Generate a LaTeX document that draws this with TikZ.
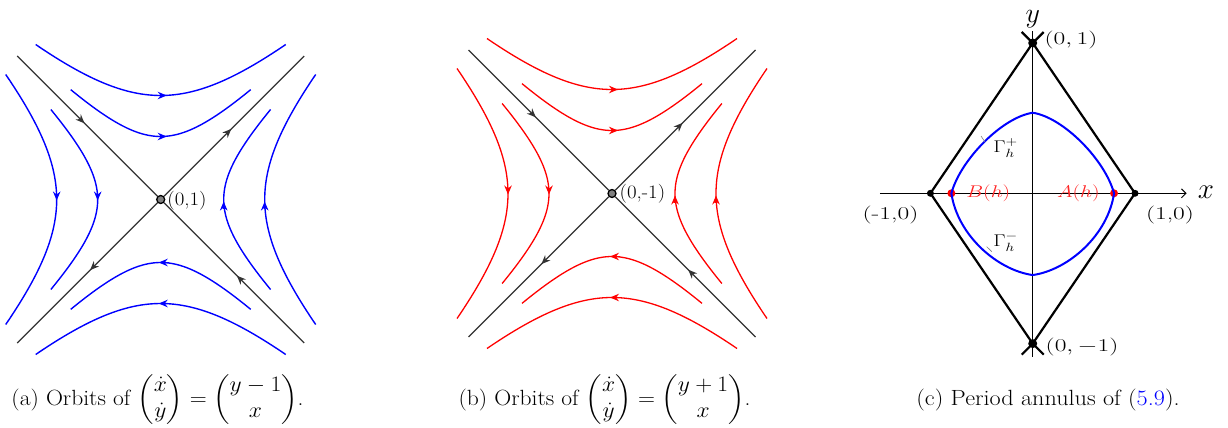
\RequirePackage{fix-cm}
\documentclass[tikz,border=0pt]{standalone}
\usepackage{amsmath}
\usepackage{graphicx}
\usetikzlibrary{arrows.meta,decorations.markings}
\newcommand{\xs}[1]{\scalebox{1.25}[1]{#1}}
\newcommand{\xw}[1]{\scalebox{1.42}[1]{#1}}
\tikzset{
  headtip/.tip={Stealth[length=9pt,width=7.5pt,inset=3pt]},
  midarrow/.style={postaction={decorate},decoration={markings,mark=at position #1 with {\arrow{headtip}}}},
  midarrow/.default=0.5,
  orbitA/.style={blue,line width=1.4pt},
  orbitB/.style={red,line width=1.3pt},
  tipA/.style={blue,line width=1.4pt,-headtip,shorten >=-4pt},
  tipB/.style={red,line width=1.3pt,-headtip,shorten >=-4pt},
  separatrix/.style={black!80,line width=1.2pt,midarrow=0.48},
  saddle/.style={circle,draw=black,line width=1.3pt,fill=gray,inner sep=0pt,minimum size=8pt},
  captext/.style={anchor=base,inner sep=0pt,font=\fontsize{22}{26}\selectfont},
  lab/.style={anchor=west,inner sep=0pt,font=\fontsize{19}{22}\selectfont},
  clab/.style={inner sep=0pt,font=\fontsize{17}{20}\selectfont},
  vlab/.style={inner sep=0pt,font=\fontsize{18}{21}\selectfont},
  bigdot/.style={circle,fill=black,inner sep=0pt,minimum size=#1},
  reddot/.style={circle,fill=red,inner sep=0pt,minimum size=8pt},
  rhomb/.style={black,line width=2.2pt},
}
\begin{document}
\begin{tikzpicture}[x=10pt,y=-10pt]
\useasboundingbox (0,0) rectangle (122.8,42.8);
% ---------- panel (a)
\begin{scope}[shift={(16.07,19.95)}]
  \node[saddle] (sa) at (0,0) {};
  \node[lab] (sal) at (0.65,0.1) {\scalebox{1.1}[1]{(0,1)}};
  \coordinate (a1) at (-14.35,-14.35);
  \coordinate (a2) at (14.35,-14.35);
  \coordinate (a3) at (-14.35,14.35);
  \coordinate (a4) at (14.35,14.35);
  \draw[separatrix] (a1) -- (sa);
  \draw[separatrix] (a4) -- (sa);
  \draw[separatrix] (sa) -- (a2);
  \draw[separatrix] (sa) -- (a3);
  \draw[orbitA] plot[domain=-12.5:12.5,samples=41,smooth] (\x,{-sqrt(10.4*10.4+0.845*\x*\x)});
  \draw[orbitA] plot[domain=-9:9,samples=41,smooth] (\x,{-sqrt(6.3*6.3+\x*\x)});
  \draw[orbitA] plot[domain=-12.5:12.5,samples=41,smooth] (\x,{sqrt(10.4*10.4+0.845*\x*\x)});
  \draw[orbitA] plot[domain=-9:9,samples=41,smooth] (\x,{sqrt(6.3*6.3+\x*\x)});
  \draw[orbitA] plot[domain=-12.5:12.5,samples=41,smooth] ({-sqrt(10.4*10.4+0.845*\x*\x)},\x);
  \draw[orbitA] plot[domain=-9:9,samples=41,smooth] ({-sqrt(6.3*6.3+\x*\x)},\x);
  \draw[orbitA] plot[domain=-12.5:12.5,samples=41,smooth] ({sqrt(10.4*10.4+0.845*\x*\x)},\x);
  \draw[orbitA] plot[domain=-9:9,samples=41,smooth] ({sqrt(6.3*6.3+\x*\x)},\x);
  \draw[tipA] (-0.4,-10.4) -- (0.2,-10.4);
  \draw[tipA] (-0.4,-6.3) -- (0.2,-6.3);
  \draw[tipA] (0.8,10.4) -- (0.2,10.4);
  \draw[tipA] (0.8,6.3) -- (0.2,6.3);
  \draw[tipA] (-10.4,-0.6) -- (-10.4,-0.3);
  \draw[tipA] (-6.3,-0.6) -- (-6.3,-0.3);
  \draw[tipA] (10.4,0.9) -- (10.4,0.6);
  \draw[tipA] (6.3,0.9) -- (6.3,0.6);
\end{scope}
% ---------- panel (b)
\begin{scope}[shift={(61.2,19.35)}]
  \node[saddle] (sb) at (0,0) {};
  \node[lab] (sbl) at (0.75,0) {\scalebox{1.1}[1]{(0,-1)}};
  \coordinate (b1) at (-14.35,-14.35);
  \coordinate (b2) at (14.35,-14.35);
  \coordinate (b3) at (-14.35,14.35);
  \coordinate (b4) at (14.35,14.35);
  \draw[separatrix] (b1) -- (sb);
  \draw[separatrix] (b4) -- (sb);
  \draw[separatrix] (sb) -- (b2);
  \draw[separatrix] (sb) -- (b3);
  \draw[orbitB] plot[domain=-12.5:12.5,samples=41,smooth] (\x,{-sqrt(10.4*10.4+0.845*\x*\x)});
  \draw[orbitB] plot[domain=-9:9,samples=41,smooth] (\x,{-sqrt(6.3*6.3+\x*\x)});
  \draw[orbitB] plot[domain=-12.5:12.5,samples=41,smooth] (\x,{sqrt(10.4*10.4+0.845*\x*\x)});
  \draw[orbitB] plot[domain=-9:9,samples=41,smooth] (\x,{sqrt(6.3*6.3+\x*\x)});
  \draw[orbitB] plot[domain=-12.5:12.5,samples=41,smooth] ({-sqrt(10.4*10.4+0.845*\x*\x)},\x);
  \draw[orbitB] plot[domain=-9:9,samples=41,smooth] ({-sqrt(6.3*6.3+\x*\x)},\x);
  \draw[orbitB] plot[domain=-12.5:12.5,samples=41,smooth] ({sqrt(10.4*10.4+0.845*\x*\x)},\x);
  \draw[orbitB] plot[domain=-9:9,samples=41,smooth] ({sqrt(6.3*6.3+\x*\x)},\x);
  \draw[tipB] (-0.4,-10.4) -- (0.2,-10.4);
  \draw[tipB] (-0.4,-6.3) -- (0.2,-6.3);
  \draw[tipB] (0.8,10.4) -- (0.2,10.4);
  \draw[tipB] (0.8,6.3) -- (0.2,6.3);
  \draw[tipB] (-10.4,-0.6) -- (-10.4,-0.3);
  \draw[tipB] (-6.3,-0.6) -- (-6.3,-0.3);
  \draw[tipB] (10.4,0.9) -- (10.4,0.6);
  \draw[tipB] (6.3,0.9) -- (6.3,0.6);
\end{scope}
% ---------- panel (c)
\begin{scope}[shift={(1032.7pt,-193.3pt)},x=102.3pt,y=150.3pt]
  \coordinate (xl) at (-1.493,0);
  \coordinate (xr) at (1.505,0);
  \coordinate (yb) at (0,-1.087);
  \coordinate (yt) at (0,1.082);
  \draw[line width=1pt,-{Straight Barb[length=4.5pt,width=9pt]}] (xl) -- (xr);
  \draw[line width=1pt] (yb) -- (yt);
  \node[font=\fontsize{29}{30}\selectfont,inner sep=0pt] (xlab) at (1.694,0.01) {$x$};
  \node[font=\fontsize{28}{30}\selectfont,inner sep=0pt] (ylab) at (0,1.16) {$y$};
  \node[bigdot=9pt] (vt) at (0,1) {};
  \node[bigdot=9pt] (vb) at (0,-1) {};
  \node[bigdot=7pt] (vl) at (-1,0) {};
  \node[bigdot=7pt] (vr) at (1,0) {};
  \draw[rhomb] (vl.center) -- (vt.center) -- (vr.center) -- (vb.center) -- cycle;
  \draw[rhomb] (vt.center) -- ++(-11pt,11pt);
  \draw[rhomb] (vt.center) -- ++(11pt,11pt);
  \draw[rhomb] (vb.center) -- ++(-11pt,-11pt);
  \draw[rhomb] (vb.center) -- ++(11pt,-11pt);
  \node[reddot] (pa) at (0.795,0) {};
  \node[reddot] (pb) at (-0.795,0) {};
  \draw[blue,line width=2pt] (pa.center) .. controls (0.707,0.222) and (0.30,0.505) .. (0,0.536)
     .. controls (-0.30,0.505) and (-0.707,0.222) .. (pb.center)
     .. controls (-0.736,-0.277) and (-0.35,-0.51) .. (0,-0.544)
     .. controls (0.35,-0.51) and (0.736,-0.277) .. (pa.center);
  \node[vlab,anchor=west] (lt) at (0.115,1.02) {\xw{$(0,1)$}};
  \node[vlab,anchor=west] (lb) at (0.125,-1.02) {\xw{$(0,-1)$}};
  \node[vlab] (ll) at (-1.39,-0.144) {\xw{(-1,0)}};
  \node[vlab] (lr) at (1.342,-0.144) {\xw{(1,0)}};
  \node[clab] (gp) at (-0.266,0.301) {\xs{$\Gamma_h^+$}};
  \node[clab] (gm) at (-0.266,-0.324) {\xs{$\Gamma_h^-$}};
  \node[clab,text=red!85] (bh) at (-0.434,0) {\xs{$B(h)$}};
  \node[clab,text=red!85] (ah) at (0.446,0) {\xs{$A(h)$}};
  \draw[gray,line width=0.6pt] (-0.505,0.381) -- (-0.466,0.341);
  \draw[gray,line width=0.6pt] (-0.45,-0.355) -- (-0.40,-0.388);
\end{scope}
% ---------- captions
\node[captext] (ca) at (15.75,40.5) {\scalebox{1.07}[1]{(a) Orbits of $\begin{pmatrix}\dot x\\ \dot y\end{pmatrix}=\begin{pmatrix}y-1\\ x\end{pmatrix}$.}};
\node[captext] (cb) at (60.45,40.5) {\scalebox{1.07}[1]{(b) Orbits of $\begin{pmatrix}\dot x\\ \dot y\end{pmatrix}=\begin{pmatrix}y+1\\ x\end{pmatrix}$.}};
\node[captext] (cc) at (104.8,40.5) {\scalebox{1.1}[1]{(c) Period annulus of (\textcolor{blue}{5.9}).}};
\end{tikzpicture}
\end{document}
